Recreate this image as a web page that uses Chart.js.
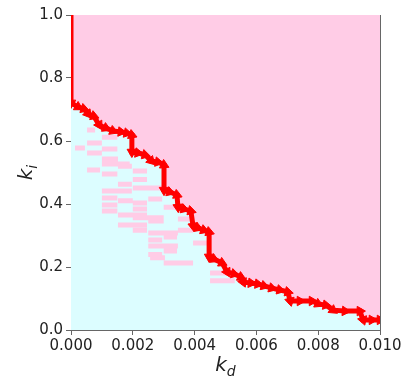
<!DOCTYPE html>
<html>
<head>
<meta charset="utf-8">
<script src="https://cdn.jsdelivr.net/npm/chart.js@4"></script>
<style>
  body { margin: 0; background: #fff; }
  #wrap { width: 404px; height: 378px; }
</style>
</head>
<body>
<div id="wrap"><canvas id="chartStab" width="404" height="378"></canvas></div>
<script>
// boundary path (k_d, k_i)
const kdPath = [0, 0, 0.00023, 0.00042, 0.00055, 0.00074, 0.00091, 0.00113, 0.00136, 0.00162,
    0.00181, 0.00197, 0.00197, 0.00217, 0.0024, 0.00259, 0.00282, 0.00301, 0.00301, 0.0032,
    0.00343, 0.00346, 0.00366, 0.00388, 0.00395, 0.00411, 0.0043, 0.00447, 0.00447, 0.00463,
    0.00489, 0.00505, 0.00528, 0.0055, 0.00557, 0.00583, 0.00605, 0.00625, 0.0065, 0.00676,
    0.00702, 0.00709, 0.00741, 0.0078, 0.008, 0.00825, 0.00848, 0.00887, 0.00935, 0.00945,
    0.00974, 0.0100];
const kiPath = [1.0, 0.721, 0.708, 0.702, 0.686, 0.679, 0.651, 0.641, 0.632, 0.629,
    0.625, 0.619, 0.565, 0.562, 0.556, 0.537, 0.533, 0.524, 0.444, 0.438,
    0.429, 0.390, 0.384, 0.378, 0.330, 0.324, 0.317, 0.311, 0.232, 0.225,
    0.213, 0.184, 0.178, 0.168, 0.152, 0.149, 0.146, 0.140, 0.133, 0.127,
    0.121, 0.092, 0.092, 0.092, 0.083, 0.079, 0.063, 0.060, 0.060, 0.032,
    0.032, 0.032];

// unstable patches below the boundary (k_d from..to at a k_i level)
const patchFrom  = [0.00052, 0.00013, 0.00052, 0.00052, 0.0010, 0.0010, 0.0010, 0.00052, 0.0010, 0.0020,
    0.00152, 0.0010, 0.0010, 0.0020, 0.0020, 0.0010, 0.0010, 0.00152, 0.0020, 0.0025,
    0.00152, 0.0020, 0.0025, 0.0025, 0.0025, 0.0030, 0.00256, 0.0030, 0.00395, 0.00346,
    0.0045, 0.0045, 0.0020, 0.00152, 0.0025, 0.0030, 0.0020, 0.0030, 0.00346, 0.00152,
    0.0010, 0.0025];
const patchTo    = [0.00078, 0.00045, 0.0010, 0.0010, 0.0015, 0.0015, 0.0019, 0.00094, 0.0015, 0.00246,
    0.00197, 0.00197, 0.0015, 0.00295, 0.00246, 0.0015, 0.0015, 0.00246, 0.0030, 0.0030,
    0.00246, 0.00246, 0.00346, 0.00295, 0.00346, 0.00343, 0.00304, 0.00395, 0.0044, 0.00395,
    0.0053, 0.0053, 0.00246, 0.00197, 0.00295, 0.00346, 0.00246, 0.00343, 0.00395, 0.0020,
    0.00152, 0.00295];
const patchLevel = [0.635, 0.578, 0.594, 0.562, 0.612, 0.575, 0.527, 0.508, 0.495, 0.505,
    0.463, 0.441, 0.419, 0.451, 0.403, 0.397, 0.378, 0.365, 0.356, 0.346,
    0.333, 0.317, 0.308, 0.286, 0.267, 0.251, 0.229, 0.213, 0.276, 0.317,
    0.181, 0.156, 0.478, 0.520, 0.416, 0.390, 0.384, 0.295, 0.352, 0.410,
    0.543, 0.240];

const xTicksStep = 0.002;
const yTicksStep = 0.2;

const pathPoints = kdPath.map((x, i) => ({ x: x, y: kiPath[i] }));
const patchPoints = [];
patchFrom.forEach((x0, i) => {
    patchPoints.push({ x: x0, y: patchLevel[i] });
    patchPoints.push({ x: patchTo[i], y: patchLevel[i] });
    patchPoints.push({ x: patchTo[i], y: null });
});

const PINK = '#ffcce6';
const CYAN = '#dcfdff';
const AXIS = '#666';
const TXT = '#222';

// axis titles with subscripts
const axisTitles = {
    id: 'axisTitles',
    afterDraw(chart) {
        const ctx = chart.ctx;
        const area = chart.chartArea;
        ctx.save();
        ctx.fillStyle = TXT;
        ctx.textBaseline = 'alphabetic';
        ctx.textAlign = 'left';

        function sub(main, low) {
            ctx.font = 'italic 20px "DejaVu Sans"';
            const w1 = ctx.measureText(main).width;
            ctx.font = 'italic 14px "DejaVu Sans"';
            const w2 = ctx.measureText(low).width;
            const x0 = -(w1 + w2) / 2;
            ctx.font = 'italic 20px "DejaVu Sans"';
            ctx.fillText(main, x0, 0);
            ctx.font = 'italic 14px "DejaVu Sans"';
            ctx.fillText(low, x0 + w1, 5);
        }

        ctx.save();
        ctx.translate((area.left + area.right) / 2, 371);
        sub('k', 'd');
        ctx.restore();

        ctx.save();
        ctx.translate(32, (area.top + area.bottom) / 2);
        ctx.rotate(-Math.PI / 2);
        sub('k', 'i');
        ctx.restore();

        ctx.restore();
    }
};

document.addEventListener('DOMContentLoaded', function() {
    const ctx = document.getElementById('chartStab').getContext('2d');

    new Chart(ctx, {
        type: 'scatter',
        data: {
            datasets: [
                {
                    label: 'boundary',
                    data: pathPoints,
                    showLine: true,
                    borderColor: '#ff0000',
                    borderWidth: 5,
                    borderJoinStyle: 'miter',
                    backgroundColor: PINK,
                    fill: 'end',
                    tension: 0,
                    pointStyle: 'triangle',
                    pointRadius: c => c.dataIndex === 0 ? 0 : 5.5,
                    pointBackgroundColor: '#ff0000',
                    pointBorderColor: '#ff0000',
                    pointBorderWidth: 1,
                    pointRotation: function(c) {
                        const i = c.dataIndex;
                        if (!i) return 0;
                        const xs = c.chart.scales.x, ys = c.chart.scales.y;
                        const dx = xs.getPixelForValue(kdPath[i]) - xs.getPixelForValue(kdPath[i - 1]);
                        const dy = ys.getPixelForValue(kiPath[i]) - ys.getPixelForValue(kiPath[i - 1]);
                        return Math.atan2(dx, -dy) * 180 / Math.PI;
                    }
                },
                {
                    label: 'patches',
                    data: patchPoints,
                    showLine: true,
                    spanGaps: false,
                    borderColor: PINK,
                    borderWidth: 5,
                    borderCapStyle: 'butt',
                    pointRadius: 0,
                    fill: false
                },
                {
                    label: 'stable',
                    data: pathPoints,
                    showLine: true,
                    borderWidth: 0,
                    borderColor: 'rgba(0,0,0,0)',
                    backgroundColor: CYAN,
                    fill: 'start',
                    pointRadius: 0
                }
            ]
        },
        plugins: [axisTitles],
        options: {
            responsive: false,
            animation: false,
            layout: { padding: { left: 0, right: 24, top: 15, bottom: 0 } },
            plugins: {
                legend: { display: false },
                tooltip: { enabled: false }
            },
            scales: {
                x: {
                    type: 'linear',
                    min: 0,
                    max: 0.01,
                    grid: { drawOnChartArea: false, tickLength: 5, color: AXIS },
                    border: { color: AXIS, width: 1 },
                    ticks: {
                        stepSize: xTicksStep,
                        color: TXT,
                        padding: 2,
                        maxRotation: 0,
                        autoSkip: false,
                        font: { size: 15, family: 'DejaVu Sans' },
                        callback: v => v.toFixed(3)
                    },
                    afterFit: s => { s.height = 48; }
                },
                y: {
                    type: 'linear',
                    min: 0,
                    max: 1,
                    grid: { drawOnChartArea: false, tickLength: 5, color: AXIS },
                    border: { color: AXIS, width: 1 },
                    ticks: {
                        stepSize: yTicksStep,
                        color: TXT,
                        padding: 3,
                        font: { size: 15, family: 'DejaVu Sans' },
                        callback: v => v.toFixed(1)
                    },
                    afterFit: s => { s.width = 71; }
                },
                x2: {
                    type: 'linear',
                    position: 'top',
                    min: 0,
                    max: 0.01,
                    grid: { drawOnChartArea: false, drawTicks: false },
                    border: { color: AXIS, width: 1 },
                    ticks: { display: false },
                    afterFit: s => { s.height = 0; }
                },
                y2: {
                    type: 'linear',
                    position: 'right',
                    min: 0,
                    max: 1,
                    grid: { drawOnChartArea: false, drawTicks: false },
                    border: { color: AXIS, width: 1 },
                    ticks: { display: false },
                    afterFit: s => { s.width = 0; }
                }
            }
        }
    });
});
</script>
</body>
</html>
